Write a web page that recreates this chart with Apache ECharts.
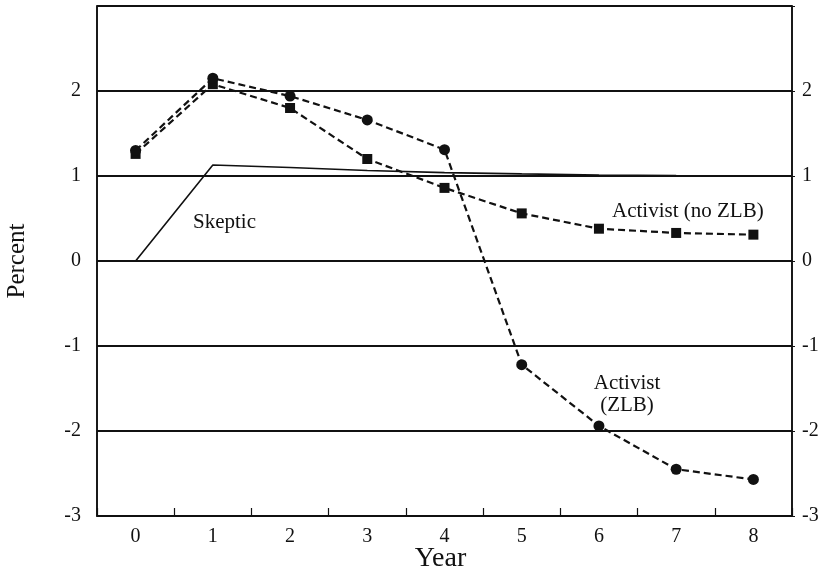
<!DOCTYPE html>
<html>
<head>
<meta charset="utf-8">
<script src="https://cdn.jsdelivr.net/npm/echarts@6/dist/echarts.min.js"></script>
<style>
  html, body { margin: 0; padding: 0; background: #fff; }
  #chart { width: 821px; height: 573px; }
</style>
</head>
<body>
<div id="chart"></div>
<script>
// Years after the shock
var years = ['0', '1', '2', '3', '4', '5', '6', '7', '8'];
// Response paths, in percent
var skeptic = [0, 1.13, 1.10, 1.065, 1.04, 1.025, 1.012, 1.005, 1.0];
var activistNoZLB = [1.26, 2.08, 1.80, 1.20, 0.86, 0.56, 0.38, 0.33, 0.31];
var activistZLB = [1.30, 2.15, 1.94, 1.66, 1.31, -1.22, -1.94, -2.45, -2.57];
var yTicks = [-3, -2, -1, 0, 1, 2, 3];

var FONT = '"Liberation Serif", "Times New Roman", serif';

var chart = echarts.init(document.getElementById('chart'), null, { renderer: 'canvas' });

var yMin = yTicks[0];
var yMax = yTicks[yTicks.length - 1];

// the top tick of the percent scale is left unlabelled
function yLabel(v) {
  return v === yMax ? '' : String(v);
}

var yLabelStyle = {
  fontFamily: FONT, fontSize: 20, color: '#111', formatter: yLabel
};

chart.setOption({
  animation: false,
  backgroundColor: '#fff',
  grid: {
    left: 97, right: 29, top: 6, bottom: 57,
    outerBoundsMode: 'none',
    containLabel: false,
    show: true, borderColor: '#111', borderWidth: 1.6, backgroundColor: 'transparent'
  },
  xAxis: {
    type: 'category',
    data: years,
    boundaryGap: true,
    name: 'Year',
    nameLocation: 'middle',
    nameGap: 29,
    nameMoveOverlap: false,
    nameTextStyle: { fontFamily: FONT, fontSize: 28, color: '#111', padding: [0, 8, 0, 0] },
    axisLine: { show: true, onZero: false, lineStyle: { color: '#111', width: 1.6 } },
    axisTick: { show: true, inside: true, length: 8, alignWithLabel: false, lineStyle: { color: '#111', width: 1.2 } },
    axisLabel: { fontFamily: FONT, fontSize: 20, color: '#111', margin: 11 },
    splitLine: { show: false }
  },
  yAxis: [
    {
      type: 'value', min: yMin, max: yMax, interval: 1,
      name: 'Percent',
      nameLocation: 'middle',
      nameGap: 67,
      nameRotate: 90,
      nameMoveOverlap: false,
      nameTextStyle: { fontFamily: FONT, fontSize: 25, color: '#111' },
      axisLine: { show: true, onZero: false, lineStyle: { color: '#111', width: 1.6 } },
      axisTick: { show: false },
      axisLabel: Object.assign({ margin: 16 }, yLabelStyle),
      splitLine: { show: true, lineStyle: { color: '#111', width: 1.8 } }
    },
    {
      type: 'value', min: yMin, max: yMax, interval: 1,
      position: 'right',
      axisLine: { show: true, onZero: false, lineStyle: { color: '#111', width: 1.6 } },
      axisTick: { show: true, length: 3, lineStyle: { color: '#111' } },
      axisLabel: Object.assign({ margin: 10 }, yLabelStyle),
      splitLine: { show: false }
    }
  ],
  series: [
    {
      name: 'Skeptic',
      type: 'line',
      data: skeptic,
      showSymbol: false,
      symbol: 'none',
      lineStyle: { color: '#111', width: 1.6, type: 'solid' },
      z: 3
    },
    {
      name: 'Activist (no ZLB)',
      type: 'line',
      data: activistNoZLB,
      symbol: 'rect',
      symbolSize: 10,
      itemStyle: { color: '#111' },
      lineStyle: { color: '#111', width: 2.2, type: [7, 4] },
      z: 4
    },
    {
      name: 'Activist (ZLB)',
      type: 'line',
      data: activistZLB,
      symbol: 'circle',
      symbolSize: 11,
      itemStyle: { color: '#111' },
      lineStyle: { color: '#111', width: 2.2, type: [7, 4] },
      z: 5
    }
  ],
  graphic: [
    {
      type: 'text', x: 193, y: 212,
      style: { text: 'Skeptic', font: '21px ' + FONT, fill: '#111', textVerticalAlign: 'top' }
    },
    {
      type: 'text', x: 612, y: 201,
      style: { text: 'Activist (no ZLB)', font: '21px ' + FONT, fill: '#111', textVerticalAlign: 'top' }
    },
    {
      type: 'text', x: 627, y: 372,
      style: { text: 'Activist\n(ZLB)', font: '21px ' + FONT, fill: '#111', align: 'center', verticalAlign: 'top', lineHeight: 22 }
    }
  ]
});
</script>
</body>
</html>
